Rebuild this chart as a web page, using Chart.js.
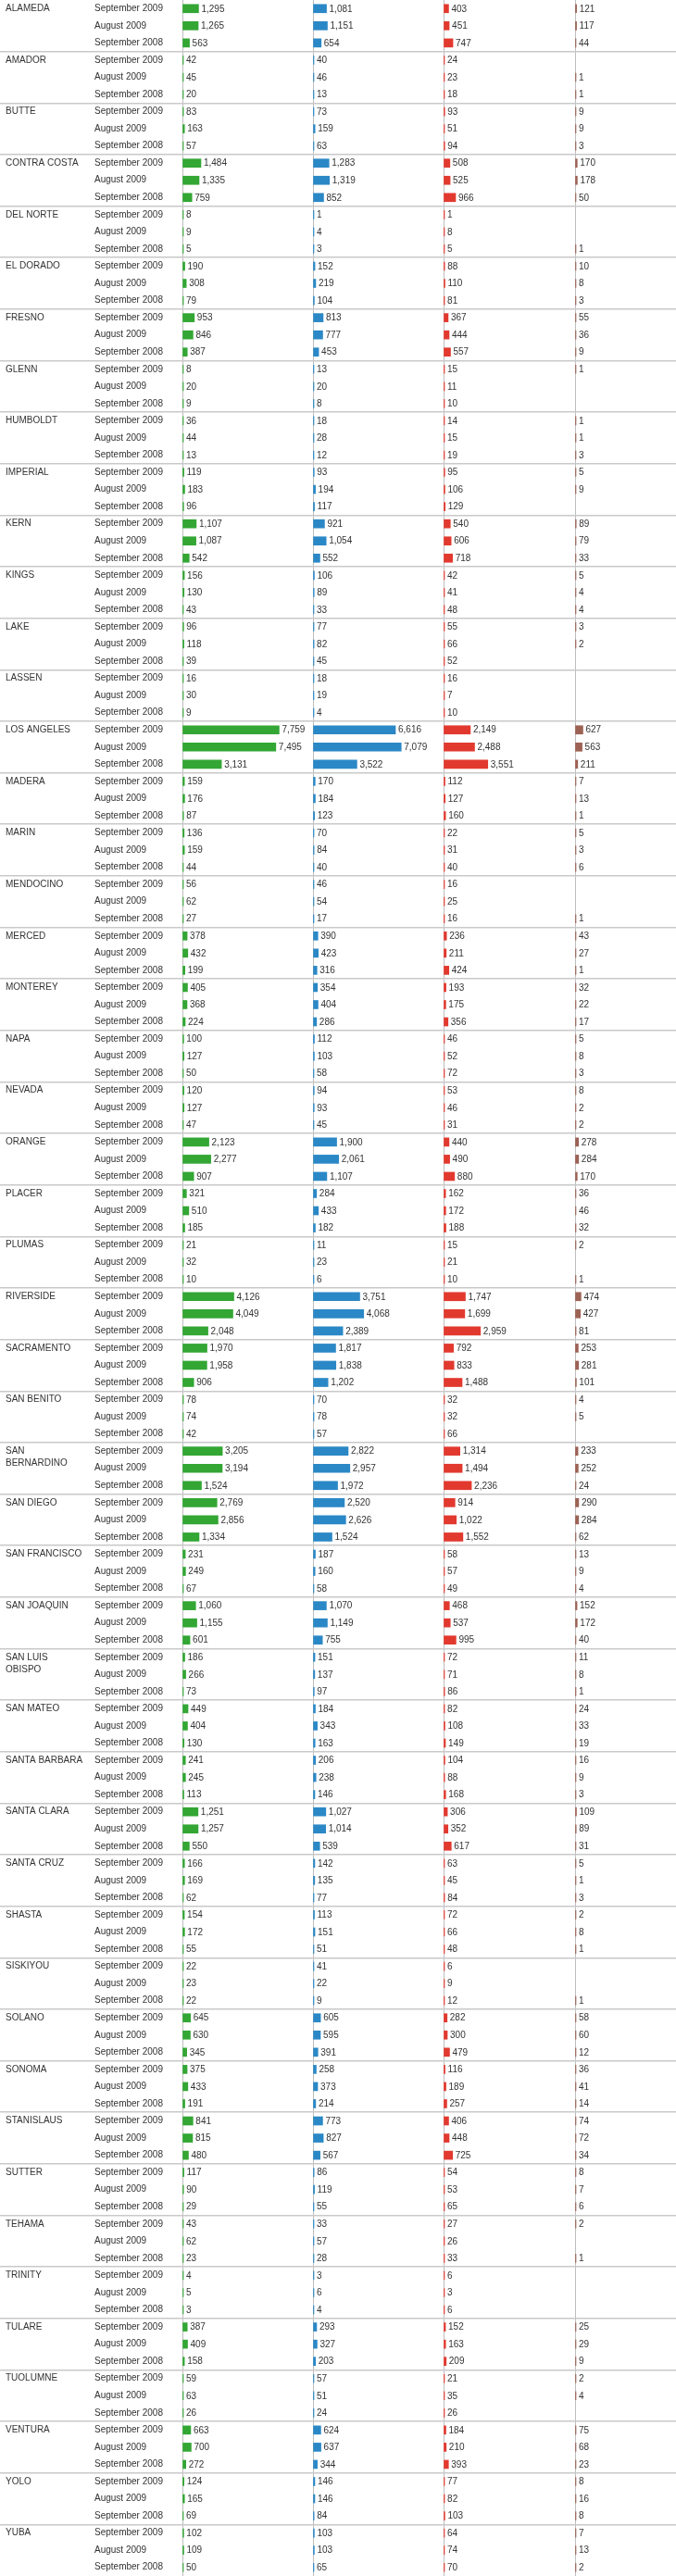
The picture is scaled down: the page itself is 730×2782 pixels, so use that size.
<!DOCTYPE html>
<html>
<head>
<meta charset="utf-8">
<title>California counties</title>
<script src="https://cdn.jsdelivr.net/npm/chart.js@4.4.1/dist/chart.umd.min.js"></script>
<style>
  html, body { margin: 0; padding: 0; background: #fff; }
  #wrap { position: relative; width: 730px; height: 2782px; }
</style>
</head>
<body>
<div id="wrap"><canvas id="chart"></canvas></div>
<script>
/* ──────────────────────────────────────────────
   County table – four bar columns, three periods per county
   ────────────────────────────────────────────── */

// Counties (wrapped names are given as line arrays)
const COUNTIES = [
  "ALAMEDA", "AMADOR", "BUTTE", "CONTRA COSTA", "DEL NORTE", "EL DORADO", "FRESNO",
  "GLENN", "HUMBOLDT", "IMPERIAL", "KERN", "KINGS", "LAKE", "LASSEN", "LOS ANGELES",
  "MADERA", "MARIN", "MENDOCINO", "MERCED", "MONTEREY", "NAPA", "NEVADA", "ORANGE",
  "PLACER", "PLUMAS", "RIVERSIDE", "SACRAMENTO", "SAN BENITO", ["SAN", "BERNARDINO"],
  "SAN DIEGO", "SAN FRANCISCO", "SAN JOAQUIN", ["SAN LUIS", "OBISPO"], "SAN MATEO",
  "SANTA BARBARA", "SANTA CLARA", "SANTA CRUZ", "SHASTA", "SISKIYOU", "SOLANO",
  "SONOMA", "STANISLAUS", "SUTTER", "TEHAMA", "TRINITY", "TULARE", "TUOLUMNE",
  "VENTURA", "YOLO", "YUBA"
];

// Periods shown for every county
const PERIODS = ["September 2009", "August 2009", "September 2008"];

// Column 1 (green) – Sep 2009, Aug 2009, Sep 2008 per county
const COL_GREEN = [
  1295, 1265, 563,   42, 45, 20,   83, 163, 57,   1484, 1335, 759,   8, 9, 5,
  190, 308, 79,   953, 846, 387,   8, 20, 9,   36, 44, 13,   119, 183, 96,
  1107, 1087, 542,   156, 130, 43,   96, 118, 39,   16, 30, 9,   7759, 7495, 3131,
  159, 176, 87,   136, 159, 44,   56, 62, 27,   378, 432, 199,   405, 368, 224,
  100, 127, 50,   120, 127, 47,   2123, 2277, 907,   321, 510, 185,   21, 32, 10,
  4126, 4049, 2048,   1970, 1958, 906,   78, 74, 42,   3205, 3194, 1524,   2769, 2856, 1334,
  231, 249, 67,   1060, 1155, 601,   186, 266, 73,   449, 404, 130,   241, 245, 113,
  1251, 1257, 550,   166, 169, 62,   154, 172, 55,   22, 23, 22,   645, 630, 345,
  375, 433, 191,   841, 815, 480,   117, 90, 29,   43, 62, 23,   4, 5, 3,
  387, 409, 158,   59, 63, 26,   663, 700, 272,   124, 165, 69,   102, 109, 50
];

// Column 2 (blue)
const COL_BLUE = [
  1081, 1151, 654,   40, 46, 13,   73, 159, 63,   1283, 1319, 852,   1, 4, 3,
  152, 219, 104,   813, 777, 453,   13, 20, 8,   18, 28, 12,   93, 194, 117,
  921, 1054, 552,   106, 89, 33,   77, 82, 45,   18, 19, 4,   6616, 7079, 3522,
  170, 184, 123,   70, 84, 40,   46, 54, 17,   390, 423, 316,   354, 404, 286,
  112, 103, 58,   94, 93, 45,   1900, 2061, 1107,   284, 433, 182,   11, 23, 6,
  3751, 4068, 2389,   1817, 1838, 1202,   70, 78, 57,   2822, 2957, 1972,   2520, 2626, 1524,
  187, 160, 58,   1070, 1149, 755,   151, 137, 97,   184, 343, 163,   206, 238, 146,
  1027, 1014, 539,   142, 135, 77,   113, 151, 51,   41, 22, 9,   605, 595, 391,
  258, 373, 214,   773, 827, 567,   86, 119, 55,   33, 57, 28,   3, 6, 4,
  293, 327, 203,   57, 51, 24,   624, 637, 344,   146, 146, 84,   103, 103, 65
];

// Column 3 (red)
const COL_RED = [
  403, 451, 747,   24, 23, 18,   93, 51, 94,   508, 525, 966,   1, 8, 5,
  88, 110, 81,   367, 444, 557,   15, 11, 10,   14, 15, 19,   95, 106, 129,
  540, 606, 718,   42, 41, 48,   55, 66, 52,   16, 7, 10,   2149, 2488, 3551,
  112, 127, 160,   22, 31, 40,   16, 25, 16,   236, 211, 424,   193, 175, 356,
  46, 52, 72,   53, 46, 31,   440, 490, 880,   162, 172, 188,   15, 21, 10,
  1747, 1699, 2959,   792, 833, 1488,   32, 32, 66,   1314, 1494, 2236,   914, 1022, 1552,
  58, 57, 49,   468, 537, 995,   72, 71, 86,   82, 108, 149,   104, 88, 168,
  306, 352, 617,   63, 45, 84,   72, 66, 48,   6, 9, 12,   282, 300, 479,
  116, 189, 257,   406, 448, 725,   54, 53, 65,   27, 26, 33,   6, 3, 6,
  152, 163, 209,   21, 35, 26,   184, 210, 393,   77, 82, 103,   64, 74, 70
];

// Column 4 (brown) – null where the cell is empty
const COL_BROWN = [
  121, 117, 44,   null, 1, 1,   9, 9, 3,   170, 178, 50,   null, null, 1,
  10, 8, 3,   55, 36, 9,   1, null, null,   1, 1, 3,   5, 9, null,
  89, 79, 33,   5, 4, 4,   3, 2, null,   null, null, null,   627, 563, 211,
  7, 13, 1,   5, 3, 6,   null, null, 1,   43, 27, 1,   32, 22, 17,
  5, 8, 3,   8, 2, 2,   278, 284, 170,   36, 46, 32,   2, null, 1,
  474, 427, 81,   253, 281, 101,   4, 5, null,   233, 252, 24,   290, 284, 62,
  13, 9, 4,   152, 172, 40,   11, 8, 1,   24, 33, 19,   16, 9, 3,
  109, 89, 31,   5, 1, 3,   2, 8, 1,   null, null, 1,   58, 60, 12,
  36, 41, 14,   74, 72, 34,   8, 7, 6,   2, null, 1,   null, null, null,
  25, 29, 9,   2, 4, null,   75, 68, 23,   8, 16, 8,   7, 13, 2
];

// ── ESTILOS ─────────────────────────────────────

const COLORS = ["#33a634", "#2b88c6", "#e2392f", "#9c6254"];
const TEXT = "#333333";
const SEP_LINE = "#c9c9c9";
const COL_LINE = "#bdbdbd";

// Row labels and county labels (county text only on its first row)
const rowLabels = [];
const countyLabels = [];
COUNTIES.forEach(c => {
  PERIODS.forEach((p, i) => {
    rowLabels.push(p);
    if (i === 0) countyLabels.push(Array.isArray(c) ? [""].concat(c) : c);
    else countyLabels.push("");
  });
});

Chart.defaults.font.family = "'Liberation Sans', Arial, Helvetica, sans-serif";
Chart.defaults.font.size = 10;
Chart.defaults.color = TEXT;

// Value labels at the end of each bar
const valueLabels = {
  id: "valueLabels",
  afterDatasetsDraw(chart) {
    const ctx = chart.ctx;
    ctx.save();
    ctx.font = "10px 'Liberation Sans', Arial, Helvetica, sans-serif";
    ctx.fillStyle = TEXT;
    ctx.textAlign = "left";
    ctx.textBaseline = "middle";
    chart.data.datasets.forEach((ds, i) => {
      const meta = chart.getDatasetMeta(i);
      meta.data.forEach((el, j) => {
        const v = ds.data[j];
        if (v == null) return;
        ctx.fillText(v.toLocaleString("en-US"), el.x + 3, el.y + 0.5);
      });
    });
    ctx.restore();
  }
};

// Column axes share one stack, side by side; widths follow the reference columns
function columnAxis(weight, max) {
  return {
    type: "linear",
    axis: "x",
    position: "bottom",
    stack: "cols",
    stackWeight: weight,
    min: 0,
    max: max,
    ticks: { display: false },
    border: { display: false },
    grid: {
      drawTicks: false,
      lineWidth: 1,
      color: c => (c.tick && c.tick.value === 0 ? COL_LINE : "rgba(0,0,0,0)")
    }
  };
}

function noPadding(scale, width) {
  scale.width = width;
  scale.paddingTop = 0;
  scale.paddingBottom = 0;
}

const series = [COL_GREEN, COL_BLUE, COL_RED, COL_BROWN];

new Chart(document.getElementById("chart"), {
  type: "bar",
  data: {
    labels: rowLabels,
    datasets: series.map((d, i) => ({
      data: d,
      xAxisID: "x" + (i + 1),
      yAxisID: "y",
      backgroundColor: COLORS[i],
      borderWidth: 0,
      barThickness: 9,
      minBarLength: 1,
      grouped: false
    }))
  },
  options: {
    indexAxis: "y",
    responsive: true,
    maintainAspectRatio: false,
    animation: false,
    events: [],
    layout: { padding: { left: 6, right: 0, top: 0, bottom: 0 } },
    plugins: { legend: { display: false }, tooltip: { enabled: false } },
    scales: {
      x1: columnAxis(141, 10480),
      x2: columnAxis(141, 10480),
      x3: columnAxis(142, 10560),
      x4: columnAxis(109, 8100),
      yc: {
        type: "category",
        axis: "y",
        position: "left",
        weight: 10,
        labels: countyLabels,
        offset: true,
        border: { display: false },
        grid: { display: false },
        ticks: {
          autoSkip: false,
          crossAlign: "far",
          padding: 0,
          font: { size: 10, lineHeight: 1.3 }
        },
        afterFit: s => noPadding(s, 96)
      },
      y: {
        type: "category",
        axis: "y",
        position: "left",
        weight: 5,
        offset: true,
        border: { display: false },
        grid: {
          offset: true,
          lineWidth: 1.5,
          tickLength: 197,
          color: c => (c.index > 0 && c.index % 3 === 0 ? SEP_LINE : "rgba(0,0,0,0)")
        },
        ticks: {
          autoSkip: false,
          crossAlign: "far",
          padding: 0,
          font: { size: 10, lineHeight: 1.3 }
        },
        afterFit: s => noPadding(s, 95)
      }
    }
  },
  plugins: [valueLabels]
});
</script>
</body>
</html>
